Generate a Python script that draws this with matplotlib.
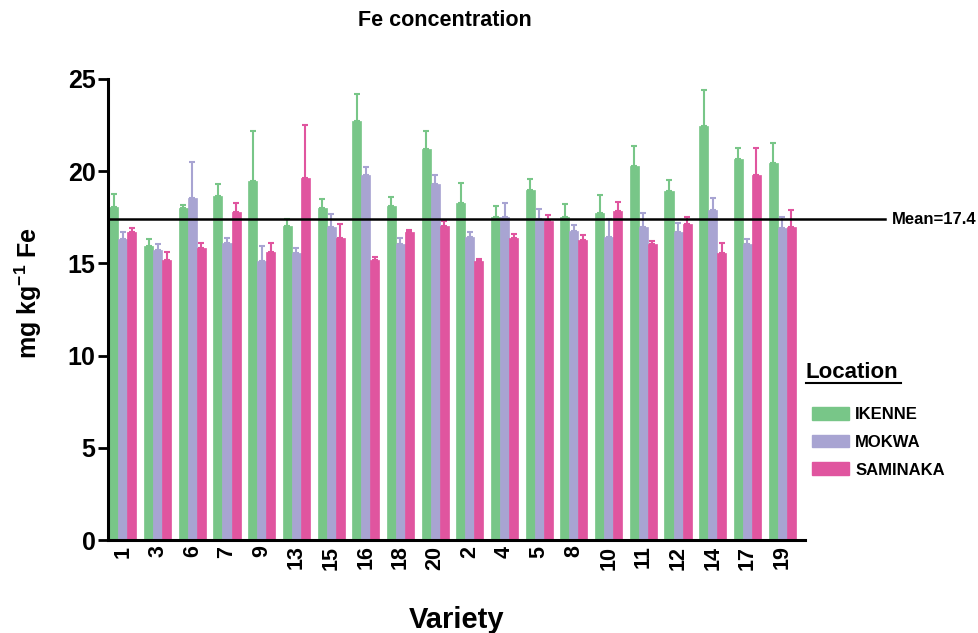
import numpy as np
import matplotlib.pyplot as plt
from matplotlib.patches import Patch
from matplotlib.lines import Line2D

plt.rcParams['font.family'] = ['Liberation Sans', 'DejaVu Sans']
plt.rcParams['mathtext.fontset'] = 'custom'
plt.rcParams['mathtext.rm'] = 'Liberation Sans'
plt.rcParams['mathtext.bf'] = 'Liberation Sans:bold'

varieties = ['1', '3', '6', '7', '9', '13', '15', '16', '18', '20',
             '2', '4', '5', '8', '10', '11', '12', '14', '17', '19']

ikenne = [18.07, 15.96, 18.02, 18.67, 19.45, 17.03, 17.99, 22.72, 18.13, 21.19,
          18.29, 17.53, 18.98, 17.53, 17.72, 20.28, 18.94, 22.45, 20.65, 20.44]
ikenne_err = [0.68, 0.36, 0.17, 0.65, 2.71, 0.36, 0.50, 1.48, 0.49, 0.99,
              1.09, 0.58, 0.61, 0.69, 1.01, 1.10, 0.58, 1.95, 0.61, 1.07]

mokwa = [16.32, 15.73, 18.53, 16.09, 15.11, 15.58, 16.99, 19.79, 16.05, 19.31,
         16.45, 17.53, 17.39, 16.74, 16.45, 16.99, 16.68, 17.91, 16.07, 16.90]
mokwa_err = [0.40, 0.32, 1.95, 0.27, 0.83, 0.27, 0.69, 0.45, 0.35, 0.47,
             0.25, 0.76, 0.56, 0.34, 0.98, 0.76, 0.51, 0.64, 0.25, 0.60]

saminaka = [16.72, 15.17, 15.85, 17.80, 15.60, 19.65, 16.38, 15.17, 16.72, 17.03,
            15.13, 16.40, 17.28, 16.29, 17.86, 16.03, 17.12, 15.55, 19.81, 16.96]
saminaka_err = [0.22, 0.45, 0.24, 0.46, 0.49, 2.84, 0.76, 0.20, 0.07, 0.27,
                0.13, 0.19, 0.33, 0.27, 0.47, 0.20, 0.38, 0.54, 1.45, 0.94]

locations = ['IKENNE', 'MOKWA', 'SAMINAKA']
colors = ['#78C688', '#A8A4D2', '#E0559F']
grand_mean = 17.4

x = np.arange(len(varieties))
w = 0.26

fig = plt.figure(figsize=(9.79, 6.33), dpi=100)
ax = fig.add_axes([108 / 979, 1 - 540 / 633, 697 / 979, 461 / 633])

series = [(ikenne, ikenne_err), (mokwa, mokwa_err), (saminaka, saminaka_err)]
for i, (vals, errs) in enumerate(series):
    ax.bar(x + (i - 1) * w, vals, w, color=colors[i], edgecolor=colors[i],
           linewidth=0.5, zorder=2,
           yerr=[np.zeros(len(errs)), errs],
           error_kw=dict(ecolor=colors[i], elinewidth=1.5, capsize=2.5, capthick=1.5))

# mean line running past the axes
ax.plot([0, 1.115], [grand_mean, grand_mean], color='black', lw=1.8,
        transform=ax.get_yaxis_transform(), clip_on=False, zorder=5)
ax.text(1.124, grand_mean, f'Mean={grand_mean}', transform=ax.get_yaxis_transform(),
        va='center', ha='left', fontsize=12, fontweight='bold')

ax.set_xlim(-0.43, 19.66)
ax.set_ylim(0, 25)
ax.set_yticks([0, 5, 10, 15, 20, 25])
ax.set_xticks(x)
ax.set_xticklabels(varieties, rotation=90, fontsize=15.5, fontweight='bold')
for lab in ax.get_yticklabels():
    lab.set_fontsize(18)
    lab.set_fontweight('bold')
ax.tick_params(axis='y', length=7, width=2, pad=2)
ax.tick_params(axis='x', length=0, pad=4)

for s in ['top', 'right']:
    ax.spines[s].set_visible(False)
for s in ['left', 'bottom']:
    ax.spines[s].set_linewidth(2.2)

ax.set_ylabel('mg kg$^{\\mathbf{-1}}$ Fe', fontsize=18, fontweight='bold')
ax.yaxis.set_label_coords(-0.092, 0.536)
ax.set_xlabel('Variety', fontsize=21, fontweight='bold', labelpad=26)
fig.text(445 / 979, 1 - 21 / 633, 'Fe concentration', ha='center', va='center',
         fontsize=15.5, fontweight='bold')

# legend with an underlined heading
fig.text(806 / 979, 1 - 373 / 633, 'Location', ha='left', va='center',
         fontsize=16, fontweight='bold')
fig.add_artist(Line2D([806 / 979, 901 / 979], [1 - 383 / 633, 1 - 383 / 633],
                      transform=fig.transFigure, color='black', lw=1.5))
handles = [Patch(facecolor=c, edgecolor=c) for c in colors]
fig.legend(handles, locations, loc='upper left', bbox_to_anchor=(797 / 979, 1 - 392 / 633),
           frameon=False, handlelength=2.2, handleheight=0.8, handletextpad=0.4,
           labelspacing=0.75, prop=dict(size=12, weight='bold'))

fig.savefig('out.png', dpi=100)
